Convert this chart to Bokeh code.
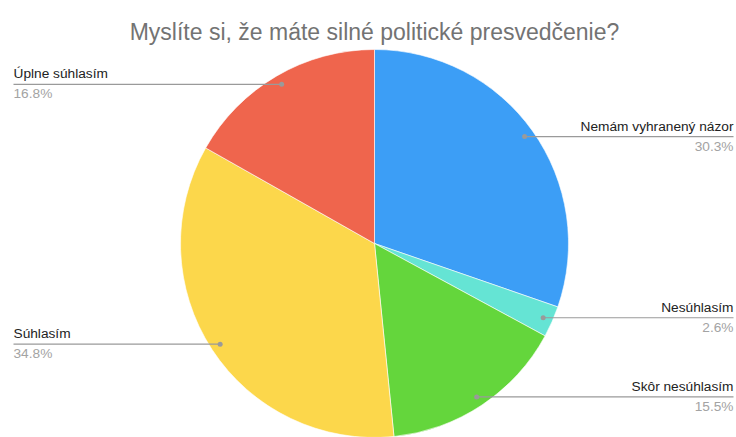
import math
from bokeh.plotting import figure
from bokeh.models import ColumnDataSource, Label
from bokeh.embed import file_html
from bokeh.resources import INLINE
from bokeh.core.properties import value

title = "Myslíte si, že máte silné politické presvedčenie?"
categories = ["Nemám vyhranený názor", "Nesúhlasím", "Skôr nesúhlasím", "Súhlasím", "Úplne súhlasím"]
percents = [30.3, 2.6, 15.5, 34.8, 16.8]
colors = ["#3C9EF6", "#65E4D4", "#64D63C", "#FCD74B", "#EF654D"]

FONT = "Liberation Sans"
W, H = 736, 437
CX, CY, R = 374, 194, 194
DOT_R = 0.95 * R
LEFT_X, RIGHT_X = 13, 733

p = figure(width=W, height=H, x_range=(0, W), y_range=(0, H),
           output_backend="svg", toolbar_location=None, min_border=0,
           x_axis_location=None, y_axis_location=None)
p.grid.visible = False
p.outline_line_color = None
p.background_fill_color = "white"
p.border_fill_color = "white"

total = sum(percents)
starts, ends, mids = [], [], []
cum = 0.0
for v in percents:
    a0 = cum / total
    cum += v
    a1 = cum / total
    starts.append(math.pi / 2 - a1 * 2 * math.pi)
    ends.append(math.pi / 2 - a0 * 2 * math.pi)
    mids.append(math.pi / 2 - (a0 + a1) / 2 * 2 * math.pi)

src = ColumnDataSource(dict(start=starts, end=ends, color=colors))
p.wedge(x=CX, y=CY, radius=R, radius_units="screen", start_angle="start", end_angle="end",
        fill_color="color", line_color="white", line_width=0.6, source=src)

dx, dy, lx0, lx1, tx, align = [], [], [], [], [], []
for m in mids:
    x = CX + DOT_R * math.cos(m)
    y = CY + DOT_R * math.sin(m)
    dx.append(x); dy.append(y)
    if math.cos(m) < 0:
        lx0.append(LEFT_X); lx1.append(x); tx.append(LEFT_X); align.append("left")
    else:
        lx0.append(x); lx1.append(RIGHT_X); tx.append(RIGHT_X); align.append("right")

ls = ColumnDataSource(dict(x0=lx0, x1=lx1, y=dy, dx=dx, tx=tx, align=align,
                           name=categories, pct=[f"{v:.1f}%" for v in percents],
                           ny=[y + 3 for y in dy], py=[y - 2 for y in dy]))
p.segment(x0="x0", y0="y", x1="x1", y1="y", line_color="#9a9a9a", line_width=1.2, source=ls)
p.scatter(x="dx", y="y", size=5, fill_color="#9a9a9a", line_color=None, source=ls)
p.text(x="tx", y="ny", text="name", text_align="align", text_baseline="bottom",
       text_font=value(FONT), text_font_size="13.7px", text_color="#222222", source=ls)
p.text(x="tx", y="py", text="pct", text_align="align", text_baseline="top",
       text_font=value(FONT), text_font_size="13.7px", text_color="#a3a3a3", source=ls)

p.add_layout(Label(x=CX, y=H - 31, text=title, text_align="center", text_baseline="alphabetic",
                   text_font=FONT, text_font_size="23px", text_color="#737373"))

open("out.html", "w").write(file_html(p, INLINE))
